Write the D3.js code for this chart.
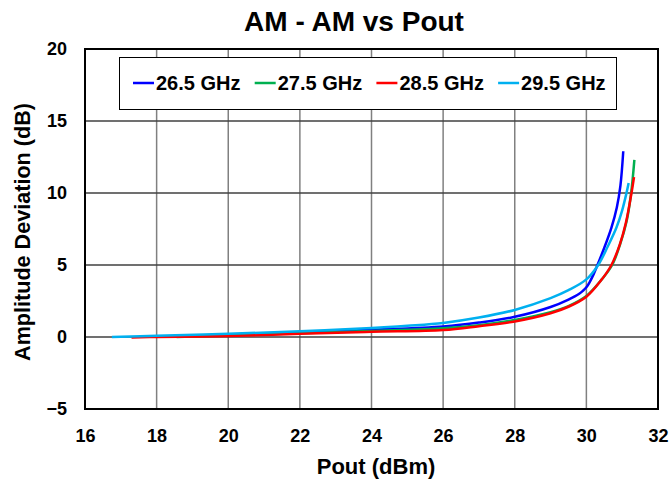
<!DOCTYPE html>
<html>
  <head>
    <meta charset="utf-8">
    <title>AM - AM vs Pout</title>
    <script src="https://d3js.org/d3.v7.min.js"></script>
    <style>
      body { margin: 0; background: #fff; }
      text { font-family: Arial, "Liberation Sans", sans-serif; font-weight: bold; fill: #000; }
    </style>
  </head>
  <body>
    <script>
      // series: [Pout dBm, deviation dB]
      var seriesNames = ["26.5 GHz", "27.5 GHz", "28.5 GHz", "29.5 GHz"];
      var seriesColors = ["#0000ff", "#00b050", "#ff0000", "#00b0f0"];

      var s265 = [[18.8,0.08],[20,0.14],[22,0.32],[24,0.5],[26,0.73],[27,1.0],[28,1.4],[29,2.08],[29.5,2.6],[29.8,3.0],
                  [29.9,3.2],[30,3.45],[30.1,3.85],[30.2,4.35],[30.31,5.0],[30.5,6.2],[30.7,7.6],[30.85,9.0],
                  [30.95,10.5],[31.03,12.9]];
      var s275 = [[18.56,0.0],[20,0.1],[22,0.26],[24,0.42],[26,0.6],[27,0.82],[28,1.18],[29,1.72],[29.5,2.15],[30,2.85],
                  [30.43,4.0],[30.72,5.0],[30.95,6.5],[31.12,8.0],[31.25,10.0],[31.34,12.3]];
      var s285 = [[17.3,-0.03],[18,0.0],[20,0.07],[22,0.22],[24,0.36],[26,0.48],[27,0.75],[28,1.08],[29,1.65],[29.5,2.1],
                  [30,2.8],[30.4,3.9],[30.7,5.0],[30.93,6.4],[31.1,7.9],[31.26,10.0],[31.33,11.1]];
      var s295 = [[16.75,0],[18,0.08],[20,0.22],[22,0.4],[24,0.62],[25,0.78],[26,0.98],[27,1.35],[28,1.88],[29,2.7],
                  [29.5,3.25],[30,4.0],[30.33,5.0],[30.6,6.3],[30.84,7.6],[31.0,8.8],[31.12,10.0],[31.18,10.7]];
      var seriesData = [s265, s275, s285, s295];

      var xTicks = [16, 18, 20, 22, 24, 26, 28, 30, 32];
      var yTicks = [-5, 0, 5, 10, 15, 20];

      var width = 672, height = 481;
      var margin = {top: 49, right: 14, bottom: 72, left: 85};

      var svg = d3.select("body").append("svg")
                  .attr("width", width)
                  .attr("height", height);

      var x = d3.scaleLinear().domain([16, 32]).range([margin.left, width - margin.right]);
      var y = d3.scaleLinear().domain([-5, 20]).range([height - margin.bottom, margin.top]);

      // grid
      svg.append("g")
        .selectAll("line")
        .data(xTicks.slice(1, -1))
        .enter().append("line")
        .attr("x1", d => x(d)).attr("x2", d => x(d))
        .attr("y1", y(20)).attr("y2", y(-5))
        .attr("stroke", "#808080").attr("stroke-width", 1.5);

      svg.append("g")
        .selectAll("line")
        .data(yTicks.slice(1, -1))
        .enter().append("line")
        .attr("x1", x(16)).attr("x2", x(32))
        .attr("y1", d => y(d)).attr("y2", d => y(d))
        .attr("stroke", "#404040").attr("stroke-width", 1.5);

      // axes (labels only, no tick marks)
      var xAxis = svg.append("g")
        .attr("transform", "translate(0," + y(-5) + ")")
        .call(d3.axisBottom(x).tickValues(xTicks).tickSize(0).tickPadding(20));
      var yAxis = svg.append("g")
        .attr("transform", "translate(" + x(16) + ",0)")
        .call(d3.axisLeft(y).tickValues(yTicks).tickSize(0).tickPadding(18));
      [xAxis, yAxis].forEach(function(a) {
        a.select(".domain").remove();
        a.selectAll("text").attr("font-size", 18).attr("font-family", null);
      });

      // curves
      var line = d3.line()
        .x(d => x(d[0]))
        .y(d => y(d[1]))
        .curve(d3.curveCatmullRom.alpha(0.5));

      svg.append("g")
        .selectAll("path")
        .data(seriesData)
        .enter().append("path")
        .attr("d", line)
        .attr("fill", "none")
        .attr("stroke", (d, i) => seriesColors[i])
        .attr("stroke-width", 2.5);

      // plot frame
      svg.append("rect")
        .attr("x", x(16)).attr("y", y(20))
        .attr("width", x(32) - x(16)).attr("height", y(-5) - y(20))
        .attr("fill", "none").attr("stroke", "#000").attr("stroke-width", 2);

      // legend
      var legend = svg.append("g");
      legend.append("rect")
        .attr("x", 119.5).attr("y", 57.5).attr("width", 497).attr("height", 52)
        .attr("fill", "#fff").attr("stroke", "#000").attr("stroke-width", 1);
      var items = legend.selectAll("g.item")
        .data(seriesNames)
        .enter().append("g")
        .attr("class", "item")
        .attr("transform", (d, i) => "translate(" + (133 + i * 121.7) + ",83)");
      items.append("line")
        .attr("x1", 0).attr("x2", 21)
        .attr("stroke", (d, i) => seriesColors[i]).attr("stroke-width", 2.5);
      items.append("text")
        .attr("x", 23).attr("y", 7)
        .attr("font-size", 20)
        .text(d => d);

      // titles
      svg.append("text")
        .attr("x", 354).attr("y", 31)
        .attr("text-anchor", "middle").attr("font-size", 28)
        .text("AM - AM vs Pout");

      svg.append("text")
        .attr("x", 376).attr("y", 474)
        .attr("text-anchor", "middle").attr("font-size", 22)
        .text("Pout (dBm)");

      svg.append("text")
        .attr("transform", "translate(30,232) rotate(-90)")
        .attr("text-anchor", "middle").attr("font-size", 21.6)
        .text("Amplitude Deviation (dB)");
    </script>
  </body>
</html>
